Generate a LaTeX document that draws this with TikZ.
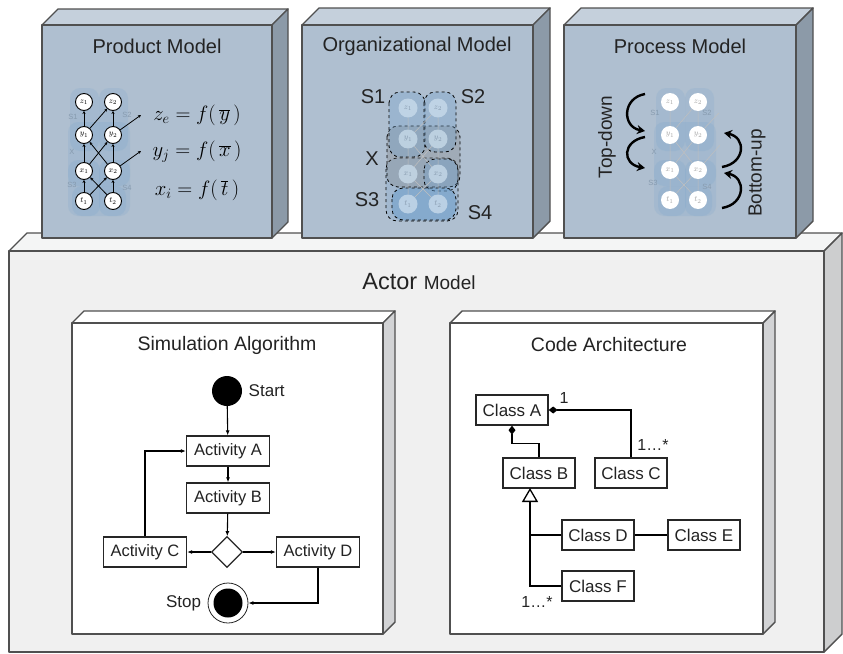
\documentclass[tikz,border=0pt]{standalone}
\usepackage{fontspec}
\setmainfont{Liberation Sans}
\usetikzlibrary{arrows.meta,shapes.geometric,calc,positioning}

\definecolor{edgegray}{RGB}{80,80,80}
\definecolor{modelfront}{RGB}{175,191,208}
\definecolor{modeltop}{RGB}{197,208,220}
\definecolor{modelside}{RGB}{140,154,168}
\definecolor{actorfront}{RGB}{240,240,240}
\definecolor{actortop}{RGB}{244,245,245}
\definecolor{actorside}{RGB}{205,206,207}
\definecolor{innerside}{RGB}{210,211,213}
\definecolor{blobblue}{RGB}{110,160,205}
\definecolor{faintlab}{RGB}{135,155,175}
\definecolor{inkgray}{RGB}{35,35,35}

% 3d block: x1, y1, x2, y2, depth, front, top, side
\newcommand{\drawblock}[8]{%
  \filldraw[boxline, fill=#7] (#1,#2) -- (#1+#5,#2-#5) -- (#3+#5,#2-#5) -- (#3,#2) -- cycle;
  \filldraw[boxline, fill=#8] (#3,#2) -- (#3+#5,#2-#5) -- (#3+#5,#4-#5) -- (#3,#4) -- cycle;
  \filldraw[boxline, fill=#6] (#1,#2) rectangle (#3,#4);
}

\begin{document}
\begin{tikzpicture}[x=1pt,y=-1pt,
  boxline/.style={draw=edgegray, line width=1.4pt, line join=round},
  title/.style={text=inkgray, font=\fontsize{20}{20}\selectfont},
  subtitle/.style={text=inkgray, font=\fontsize{19.5}{19.5}\selectfont},
  act/.style={draw=black!85, line width=1.3pt, fill=white, minimum width=83pt, minimum height=30pt, inner sep=0pt, text=inkgray, font=\fontsize{16.5}{16.5}\selectfont},
  cls/.style={act, minimum width=72pt, font=\fontsize{17}{17}\selectfont},
  small/.style={text=inkgray, font=\fontsize{17}{17}\selectfont},
  mult/.style={text=inkgray, font=\fontsize{16}{16}\selectfont},
  flow/.style={line width=1.1pt, -{Latex[length=5pt,width=4pt]}},
  comp/.style={line width=1.3pt, -{Diamond[length=9pt,width=7pt]}},
  assoc/.style={line width=1.3pt},
  pnode/.style={circle, draw=black, line width=0.9pt, fill=white, minimum size=17pt, inner sep=0pt, font=\fontsize{8.5}{8.5}\selectfont},
  onode/.style={circle, fill=white!65!blobblue, fill opacity=0.75, text opacity=1, text=faintlab, minimum size=19pt, inner sep=0pt, font=\fontsize{8.5}{8.5}\selectfont},
  qnode/.style={circle, fill=white, minimum size=18pt, inner sep=0pt, text=black!35, font=\fontsize{8.5}{8.5}\selectfont},
  pedge/.style={line width=0.8pt, -{Stealth[length=3pt,width=3pt]}},
  fedge/.style={line width=0.5pt, draw=black!25},
  blob/.style={fill=blobblue, fill opacity=0.17, rounded corners=10pt},
  sblob/.style={draw=black, dashed, line width=0.8pt, fill=blobblue, fill opacity=0.3, rounded corners=11pt},
  faint/.style={text=faintlab, font=\fontsize{7.5}{7.5}\selectfont},
  eq/.style={font=\fontsize{20}{20}\selectfont},
  bigarrow/.style={line width=2.4pt, -{Stealth[length=8pt,width=9pt]}},
]
\useasboundingbox (0,0) rectangle (843,653);

% actor model and its two parts
\drawblock{9}{251}{824}{652}{18}{actorfront}{actortop}{actorside}
\drawblock{72}{323}{383}{634}{12}{white}{white}{innerside}
\drawblock{450}{323}{763}{634}{12}{white}{white}{innerside}

% the three models on top
\drawblock{42}{25}{272}{238}{16}{modelfront}{modeltop}{modelside}
\drawblock{302}{25}{533}{238}{17}{modelfront}{modeltop}{modelside}
\drawblock{564}{25}{796}{238}{17}{modelfront}{modeltop}{modelside}

\node[title] (prodtitle) at (157,46) {Product Model};
\node[title] (orgtitle) at (417,46) {Organizational Model};
\node[title] (proctitle) at (680,46) {Process Model};
\node[text=inkgray] (actortitle) at (419,282) {\fontsize{23.5}{23.5}\selectfont Actor \fontsize{19}{19}\selectfont Model};
\node[subtitle] (simtitle) at (227,345) {Simulation Algorithm};
\node[subtitle] (codetitle) at (609,345) {Code Architecture};

% faint blobs behind product and process graphs
\foreach \dx in {0,586} {
  \foreach \xa/\ya/\xb/\yb in {70/88/99/151, 99/88/128/151, 68/122/130/186, 68/160/100/216, 99/160/130/216, 72/186/126/216}
    \fill[blob] (\xa+\dx,\ya) rectangle (\xb+\dx,\yb);
}

% product model
\foreach \n/\yy in {z/102, y/135, x/171, t/201} {
  \node[pnode] (p\n1) at (84,\yy) {$\n_1$};
  \node[pnode] (p\n2) at (113,\yy) {$\n_2$};
}
\node[faint] (ps1) at (73,117) {S1};
\node[faint] (ps2) at (127,115) {S2};
\node[faint] (psx) at (72,152) {X};
\node[faint] (ps3) at (72,185) {S3};
\node[faint] (ps4) at (127,188) {S4};
\draw[pedge] (pt1) -- (px1);
\draw[pedge] (pt2) -- (px2);
\draw[pedge] (pt1) -- (px2);
\draw[pedge] (pt2) -- (px1);
\draw[pedge] (px1) -- (py1);
\draw[pedge] (px2) -- (py2);
\draw[pedge] (px1) -- (py2);
\draw[pedge] (px2) -- (py1);
\draw[pedge] (py1) -- (pz1);
\draw[pedge] (py2) -- (pz2);
\draw[pedge] (py1) -- (pz2);
\coordinate (pze) at (141,115);
\coordinate (pyj) at (141,151);
\draw[pedge] (py2) -- (pze);
\draw[pedge] (px2) -- (pyj);
\node[eq] (eqz) at (197,115) {$z_e = f(\,\overline{y}\,)$};
\node[eq] (eqy) at (197,152) {$y_j = f(\,\overline{x}\,)$};
\node[eq] (eqx) at (197,190) {$x_i = f(\,\overline{t}\,)$};

% organizational model
\filldraw[sblob, fill opacity=0.2] (386,158) rectangle (458,221);
\filldraw[sblob, fill=gray] (387,126) rectangle (460,187);
\filldraw[sblob] (389,92) rectangle (425,157);
\filldraw[sblob] (424,92) rectangle (456,152);
\filldraw[sblob] (424,159) rectangle (458,191);
\filldraw[sblob, fill opacity=0.55] (392,188) rectangle (456,220);
\foreach \n/\yy in {z/108, y/139, x/174, t/204} {
  \node[onode] (o\n1) at (408,\yy) {$\n_1$};
  \node[onode] (o\n2) at (438,\yy) {$\n_2$};
}
\draw[fedge] (ot1) -- (ox1) (ot2) -- (ox2) (ot1) -- (ox2) (ot2) -- (ox1);
\draw[fedge] (ox1) -- (oy1) (ox2) -- (oy2) (ox1) -- (oy2) (ox2) -- (oy1);
\draw[fedge] (oy1) -- (oz1) (oy2) -- (oz2) (oy1) -- (oz2);
\node[title] (os1) at (373,97) {S1};
\node[title] (os2) at (473,97) {S2};
\node[title] (osx) at (372,159) {X};
\node[title] (os3) at (367,200) {S3};
\node[title] (os4) at (480,213) {S4};

% process model
\foreach \n/\yy in {z/102, y/135, x/170, t/200} {
  \node[qnode] (q\n1) at (670,\yy) {$\n_1$};
  \node[qnode] (q\n2) at (698,\yy) {$\n_2$};
}
\draw[fedge] (qt1) -- (qx1) (qt2) -- (qx2) (qt1) -- (qx2) (qt2) -- (qx1);
\draw[fedge] (qx1) -- (qy1) (qx2) -- (qy2) (qx1) -- (qy2) (qx2) -- (qy1);
\draw[fedge] (qy1) -- (qz1) (qy2) -- (qz2) (qy1) -- (qz2);
\coordinate (qze) at (719,113);
\coordinate (qyj) at (720,145);
\draw[fedge] (qy2) -- (qze);
\draw[fedge] (qx2) -- (qyj);
\node[faint] (qs1) at (655,113) {S1};
\node[faint] (qs2) at (707,113) {S2};
\node[faint] (qsx) at (654,152) {X};
\node[faint] (qs3) at (653,183) {S3};
\node[faint] (qs4) at (707,187) {S4};
\coordinate (td1) at (645,94);
\coordinate (td2) at (645,131);
\coordinate (td3) at (645,137);
\coordinate (td4) at (645,168);
\coordinate (bu1) at (722,208);
\coordinate (bu2) at (724,173);
\coordinate (bu3) at (722,167);
\coordinate (bu4) at (724,133);
\draw[bigarrow] (td1) .. controls (622,98) and (622,127) .. (td2);
\draw[bigarrow] (td3) .. controls (622,141) and (622,164) .. (td4);
\draw[bigarrow] (bu1) .. controls (746,204) and (746,177) .. (bu2);
\draw[bigarrow] (bu3) .. controls (746,163) and (746,137) .. (bu4);
\node[title, rotate=90, font=\fontsize{19}{19}\selectfont] (topdown) at (607,137) {Top-down};
\node[title, rotate=90, font=\fontsize{19}{19}\selectfont] (bottomup) at (757,173) {Bottom-up};

% simulation algorithm
\node[circle, fill=black, minimum size=30pt, inner sep=0pt] (start) at (227,391) {};
\node[small, right=3pt of start] (startlab) {Start};
\node[act] (actA) at (228,451) {Activity A};
\node[act] (actB) at (228,498) {Activity B};
\node[diamond, draw=black!85, line width=1.3pt, fill=white, minimum size=31pt, inner sep=0pt] (dec) at (227,552) {};
\node[act] (actC) at (145,552) {Activity C};
\node[act] (actD) at (318,552) {Activity D};
\node[circle, draw=black!85, line width=0.8pt, fill=white, minimum size=40pt, inner sep=0pt] (stop) at (228,603) {};
\node[circle, fill=black, minimum size=29pt, inner sep=0pt] (stopdot) at (stop) {};
\node[small, left=3pt of stop] (stoplab) {Stop};
\draw[flow] (start) -- (actA);
\draw[flow] (actA) -- (actB);
\draw[flow] (actB) -- (dec);
\draw[flow] (dec) -- (actC);
\draw[flow] (dec) -- (actD);
\draw[flow] (actC.north) |- (actA.west);
\draw[flow] (actD.south) |- (stop.east);

% code architecture
\node[cls] (clsA) at (512,410) {Class A};
\node[cls] (clsB) at (539,473) {Class B};
\node[cls] (clsC) at (631,473) {Class C};
\node[cls] (clsD) at (598,535) {Class D};
\node[cls] (clsE) at (704,535) {Class E};
\node[cls] (clsF) at (598,586) {Class F};
\coordinate (gen) at (530,488);
\draw[comp] (clsC.north) |- (clsA.east);
\draw[comp] (clsB.north) -- ++(0,-14) -| (clsA.south);
\draw[assoc, -{Triangle[open, length=14pt, width=16pt]}] (clsF.west) -| (gen);
\draw[assoc] (clsD.west) -- (clsD.west -| gen);
\draw[assoc] (clsD) -- (clsE);
\node[mult] (multA) at (564,398) {1};
\node[mult] (multC) at (653,445) {1…*};
\node[mult] (multF) at (537,602) {1…*};
\end{tikzpicture}
\end{document}
